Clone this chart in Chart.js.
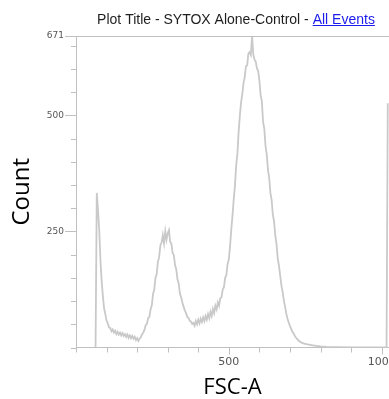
<!DOCTYPE html>
<html lang="en">
<head>
<meta charset="UTF-8">
<title>SYTOX Alone-Control - FSC-A</title>
<script src="https://cdn.jsdelivr.net/npm/chart.js@4"></script>
<style>
  html, body { margin: 0; padding: 0; background: #fff; overflow: hidden; }
  #wrap { width: 389px; height: 399px; overflow: hidden; }
</style>
</head>
<body>
<div id="wrap"><canvas id="histo" width="430" height="399"></canvas></div>
<script>
// FSC-A histogram, channels 64..820 in steps of 4
const binStart = 64;
const binWidth = 4;
const counts = [
  0, 333, 296, 252, 188, 142, 110, 84, 72, 58,
  52, 43, 42, 35, 39, 32, 36, 29, 34, 28,
  32, 26, 31, 25, 29, 23, 28, 21, 26, 20,
  25, 19, 23, 16, 20, 14, 19, 22, 28, 32,
  38, 48, 51, 63, 66, 82, 91, 115, 125, 150,
  158, 185, 194, 220, 226, 242, 224, 250, 232, 246,
  253, 228, 224, 204, 199, 178, 168, 147, 138, 116,
  108, 97, 88, 80, 74, 66, 64, 58, 56, 51,
  53, 47, 57, 50, 60, 52, 62, 55, 65, 57,
  68, 60, 72, 63, 77, 68, 83, 74, 90, 82,
  97, 90, 106, 108, 125, 130, 150, 156, 180, 190,
  218, 254, 284, 319, 348, 392, 417, 464, 499, 528,
  545, 570, 582, 606, 608, 633, 636, 630, 671, 632,
  620, 616, 601, 596, 575, 544, 530, 486, 472, 434,
  416, 383, 366, 333, 318, 286, 272, 241, 223, 192,
  176, 155, 134, 120, 101, 88, 73, 62, 54, 46,
  40, 34, 30, 25, 21, 18, 15, 13, 11, 10,
  9, 8, 8, 7, 6, 6, 5, 5, 4, 4,
  4, 3, 3, 3, 2, 2, 2, 1, 2, 1
];
// sparse tail up to the saturation channel
const tailChannels = [860, 900, 1016, 1020];
const tailCounts = [1, 0, 0, 526];

const xTicks = [0, 100, 200, 300, 400, 500, 600, 700, 800, 900, 1000];
const xLabels = [500, 1000];
const yTicks = [0, 50, 100, 150, 200, 250, 300, 350, 400, 450, 500, 550, 600, 650, 671];
const yLabels = [250, 500, 671];

const points = counts.map((c, i) => ({ x: binStart + i * binWidth, y: c }))
  .concat(tailChannels.map((ch, i) => ({ x: ch, y: tailCounts[i] })));

const axisGrey = '#c0c0c0';

// tick marks, top frame line and the two-colour title
const frame = {
  id: 'frame',
  afterDraw(chart) {
    const { ctx, chartArea: a, scales: { x, y } } = chart;
    ctx.save();
    ctx.strokeStyle = axisGrey;
    ctx.lineWidth = 1;
    ctx.beginPath();
    ctx.moveTo(a.left, a.top + 0.5);
    ctx.lineTo(a.right, a.top + 0.5);
    y.ticks.forEach(t => {
      const py = Math.round(y.getPixelForValue(t.value)) + 0.5;
      const len = yLabels.includes(t.value) ? 11 : 5;
      ctx.moveTo(a.left - len, py);
      ctx.lineTo(a.left, py);
    });
    x.ticks.forEach(t => {
      const px = Math.round(x.getPixelForValue(t.value)) + 0.5;
      const len = xLabels.includes(t.value) ? 7 : 5;
      ctx.moveTo(px, a.bottom);
      ctx.lineTo(px, a.bottom + len);
    });
    ctx.stroke();

    ctx.font = '14px "Liberation Sans", Arial, sans-serif';
    ctx.textBaseline = 'alphabetic';
    const t1 = 'Plot Title - SYTOX Alone-Control - ';
    const t2 = 'All Events';
    const w1 = ctx.measureText(t1).width;
    const w2 = ctx.measureText(t2).width;
    const x0 = 236 - (w1 + w2) / 2;
    ctx.fillStyle = '#1e1e1e';
    ctx.fillText(t1, x0, 24);
    ctx.fillStyle = '#1c1cec';
    ctx.fillText(t2, x0 + w1, 24);
    ctx.fillRect(x0 + w1, 25, w2, 1);
    ctx.restore();
  }
};

new Chart(document.getElementById('histo'), {
  type: 'line',
  data: {
    datasets: [{
      data: points,
      borderColor: '#c9c9c9',
      borderWidth: 1.8,
      pointRadius: 0,
      tension: 0,
      fill: false
    }]
  },
  options: {
    responsive: false,
    animation: false,
    devicePixelRatio: 1,
    layout: { padding: { top: 36, right: 41, left: 0, bottom: 0 } },
    plugins: { legend: { display: false }, tooltip: { enabled: false } },
    scales: {
      x: {
        type: 'linear',
        min: 0,
        max: 1024,
        afterBuildTicks: s => { s.ticks = xTicks.map(v => ({ value: v })); },
        afterFit: s => { s.height = 51.5; },
        grid: { display: false, drawTicks: false },
        border: { color: axisGrey },
        ticks: {
          autoSkip: false,
          maxRotation: 0,
          padding: 8,
          color: '#555',
          font: { family: 'DejaVu Sans', size: 11 },
          callback: v => xLabels.includes(v) ? String(v) : ''
        },
        title: {
          display: true,
          text: 'FSC-A',
          color: '#000',
          font: { family: 'Open Sans', size: 22, lineHeight: 1 },
          padding: 0
        }
      },
      y: {
        type: 'linear',
        min: 0,
        max: 671,
        afterBuildTicks: s => { s.ticks = yTicks.map(v => ({ value: v })); },
        afterFit: s => { s.width = 76; },
        grid: { display: false, drawTicks: false },
        border: { color: axisGrey },
        ticks: {
          autoSkip: false,
          padding: 12,
          color: '#555',
          font: { family: 'DejaVu Sans', size: 9 },
          callback: v => yLabels.includes(v) ? String(v) : ''
        },
        title: {
          display: true,
          text: 'Count',
          color: '#000',
          font: { family: 'Open Sans', size: 24, lineHeight: 1 },
          padding: { top: 10, bottom: 0 }
        }
      }
    }
  },
  plugins: [frame]
});
</script>
</body>
</html>
